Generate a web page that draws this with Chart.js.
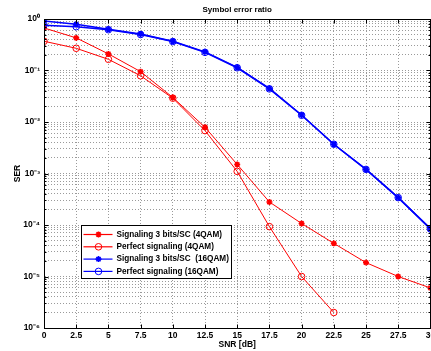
<!DOCTYPE html>
<html>
<head>
<meta charset="utf-8">
<script src="https://cdn.jsdelivr.net/npm/chart.js@4/dist/chart.umd.min.js"></script>
<style>
  html, body { margin: 0; padding: 0; background: #fff; overflow: hidden; }
  #serChart { display: block; }
</style>
</head>
<body>
<canvas id="serChart" width="436" height="351"></canvas>
<script>
// SNR points (dB)
const snrDb = [0, 2.5, 5, 7.5, 10, 12.5, 15, 17.5, 20, 22.5, 25, 27.5, 30];

// symbol error ratio per curve
const serSig4qam = [0.67, 0.43, 0.21, 0.095, 0.030, 0.0079, 0.0015, 2.8e-4, 1.07e-4, 4.4e-5, 1.86e-5, 1.0e-5, 6.0e-6];
const serPerfect4qam = [0.37, 0.27, 0.165, 0.079, 0.029, 0.0068, 0.0011, 9.3e-5, 1.0e-5, 2.0e-6];
const serSig16qam = [0.91, 0.79, 0.63, 0.51, 0.37, 0.23, 0.115, 0.045, 0.0137, 0.0037, 0.0012, 3.4e-4, 8.5e-5];
const serPerfect16qam = [0.76, 0.71, 0.62, 0.50, 0.365, 0.225, 0.113, 0.044, 0.0135, 0.0037, 0.0012, 3.4e-4, 8.4e-5];

const seriesNames = [
  'Signaling 3 bits/SC (4QAM)',
  'Perfect signaling (4QAM)',
  'Signaling 3 bits/SC  (16QAM)',
  'Perfect signaling (16QAM)'
];
const chartTitle = 'Symbol error ratio';

// axis ticks
const xTicks = [0, 2.5, 5, 7.5, 10, 12.5, 15, 17.5, 20, 22.5, 25, 27.5, 30];
const yDecades = [0, -1, -2, -3, -4, -5, -6];
const yTickLabels = ['10⁰', '10⁻¹', '10⁻²', '10⁻³', '10⁻⁴', '10⁻⁵', '10⁻⁶'];

const FONT = 'Liberation Sans, Arial, Helvetica, sans-serif';
const GRID = '#9a9a9a';

function toPoints(vals) {
  return vals.map((v, i) => ({ x: snrDb[i], y: v }));
}

function decadeIndex(v) {
  const e = Math.round(Math.log10(v));
  if (Math.abs(v / Math.pow(10, e) - 1) > 1e-6) return -1;
  return yDecades.indexOf(e);
}

function drawMarker(ctx, style, x, y, r, color, width) {
  ctx.save();
  ctx.strokeStyle = color;
  ctx.lineWidth = width;
  ctx.beginPath();
  if (style === 'circle') {
    ctx.arc(x, y, r, 0, Math.PI * 2);
  } else {
    const d = r * Math.SQRT1_2;
    ctx.moveTo(x - r, y); ctx.lineTo(x + r, y);
    ctx.moveTo(x, y - r); ctx.lineTo(x, y + r);
    ctx.moveTo(x - d, y - d); ctx.lineTo(x + d, y + d);
    ctx.moveTo(x - d, y + d); ctx.lineTo(x + d, y - d);
  }
  ctx.stroke();
  ctx.restore();
}

// box, inner tick marks, title and legend, MATLAB style
const axesBox = {
  id: 'axesBox',
  afterDatasetsDraw(chart) {
    const { ctx, chartArea: a, scales } = chart;
    const L = Math.round(a.left) + 0.5, R = Math.round(a.right) + 0.5;
    const T = Math.round(a.top) + 0.5, B = Math.round(a.bottom) + 0.5;
    ctx.save();
    ctx.strokeStyle = '#000';
    ctx.lineWidth = 1;
    ctx.strokeRect(L, T, R - L, B - T);

    ctx.beginPath();
    scales.x.ticks.forEach(t => {
      const x = Math.round(scales.x.getPixelForValue(t.value)) + 0.5;
      ctx.moveTo(x, B); ctx.lineTo(x, B - 4);
      ctx.moveTo(x, T); ctx.lineTo(x, T + 4);
    });
    scales.y.ticks.forEach(t => {
      const y = Math.round(scales.y.getPixelForValue(t.value)) + 0.5;
      const len = decadeIndex(t.value) >= 0 ? 4 : 2;
      ctx.moveTo(L, y); ctx.lineTo(L + len, y);
      ctx.moveTo(R, y); ctx.lineTo(R - len, y);
    });
    ctx.stroke();

    // title centred over the axes
    ctx.fillStyle = '#000';
    ctx.font = 'bold 8px ' + FONT;
    ctx.textAlign = 'center';
    ctx.textBaseline = 'middle';
    ctx.fillText(chartTitle, (a.left + a.right) / 2, a.top - 9);

    // legend
    const bx = Math.round(a.left + 37) + 0.5;
    const by = Math.round(a.bottom - 103) + 0.5;
    const bw = 150, bh = 53;
    ctx.fillStyle = '#fff';
    ctx.fillRect(bx, by, bw, bh);
    ctx.strokeStyle = '#000';
    ctx.strokeRect(bx, by, bw, bh);
    ctx.font = 'bold 8.2px ' + FONT;
    ctx.textAlign = 'left';
    chart.data.datasets.forEach((ds, i) => {
      const y = by + 9 + i * 12.3;
      ctx.strokeStyle = ds.borderColor;
      ctx.lineWidth = 1.2;
      ctx.beginPath();
      ctx.moveTo(bx + 2, y); ctx.lineTo(bx + 31, y);
      ctx.stroke();
      drawMarker(ctx, ds.pointStyle, bx + 17, y, ds.pointRadius, ds.borderColor, ds.pointBorderWidth);
      ctx.fillStyle = '#000';
      ctx.fillText(ds.label, bx + 35, y);
    });
    ctx.restore();
  }
};

function makeSet(label, vals, color, style, order) {
  return {
    label: label,
    data: toPoints(vals),
    borderColor: color,
    backgroundColor: 'rgba(0,0,0,0)',
    borderWidth: color === '#0000ff' ? 1.5 : 1,
    pointStyle: style,
    pointRadius: style === 'circle' ? 3.3 : 3,
    pointBorderWidth: style === 'circle' ? 1 : 1.6,
    pointBorderColor: color,
    pointBackgroundColor: style === 'circle' ? 'rgba(0,0,0,0)' : color,
    tension: 0,
    order: order
  };
}

new Chart(document.getElementById('serChart'), {
  type: 'line',
  data: {
    datasets: [
      makeSet(seriesNames[0], serSig4qam, '#ff0000', 'star', 4),
      makeSet(seriesNames[1], serPerfect4qam, '#ff0000', 'circle', 3),
      makeSet(seriesNames[2], serSig16qam, '#0000ff', 'star', 2),
      makeSet(seriesNames[3], serPerfect16qam, '#0000ff', 'circle', 1)
    ]
  },
  options: {
    responsive: false,
    animation: false,
    layout: { padding: { left: 13, right: 0, top: 19, bottom: 0 } },
    plugins: {
      legend: { display: false },
      tooltip: { enabled: false },
      title: { display: false }
    },
    scales: {
      x: {
        type: 'linear',
        min: 0,
        max: 30,
        afterBuildTicks: s => { s.ticks = xTicks.map(v => ({ value: v })); },
        afterFit: s => { s.height = 23; s.paddingLeft = 0; s.paddingRight = 0; },
        ticks: {
          color: '#000',
          padding: 3,
          maxRotation: 0,
          autoSkip: false,
          font: { family: FONT, size: 8.5, weight: 'bold' },
          callback: v => String(v)
        },
        grid: { color: GRID, drawTicks: false },
        border: { display: true, color: '#000', dash: [1, 2] },
        title: {
          display: true,
          text: 'SNR [dB]',
          color: '#000',
          font: { family: FONT, size: 8.5, weight: 'bold' },
          padding: { top: 0, bottom: 1 }
        }
      },
      y: {
        type: 'logarithmic',
        min: 1e-6,
        max: 1,
        afterBuildTicks: s => {
          const t = [];
          yDecades.slice().reverse().forEach(e => {
            for (let m = 1; m <= 9; m++) {
              const v = m * Math.pow(10, e);
              if (v <= 1.0000001) t.push({ value: v });
            }
          });
          s.ticks = t;
        },
        afterFit: s => { s.width = 31; s.paddingTop = 0; s.paddingBottom = 0; },
        ticks: {
          color: '#000',
          padding: 4,
          autoSkip: false,
          font: { family: FONT, size: 8.5, weight: 'bold' },
          callback: v => {
            const k = decadeIndex(v);
            return k >= 0 ? yTickLabels[k] : '';
          }
        },
        grid: { color: GRID, drawTicks: false },
        border: { display: true, color: '#000', dash: [1, 2] },
        title: {
          display: true,
          text: 'SER',
          color: '#000',
          font: { family: FONT, size: 8.5, weight: 'bold' },
          padding: { top: 0, bottom: 0 }
        }
      }
    }
  },
  plugins: [axesBox]
});
</script>
</body>
</html>
